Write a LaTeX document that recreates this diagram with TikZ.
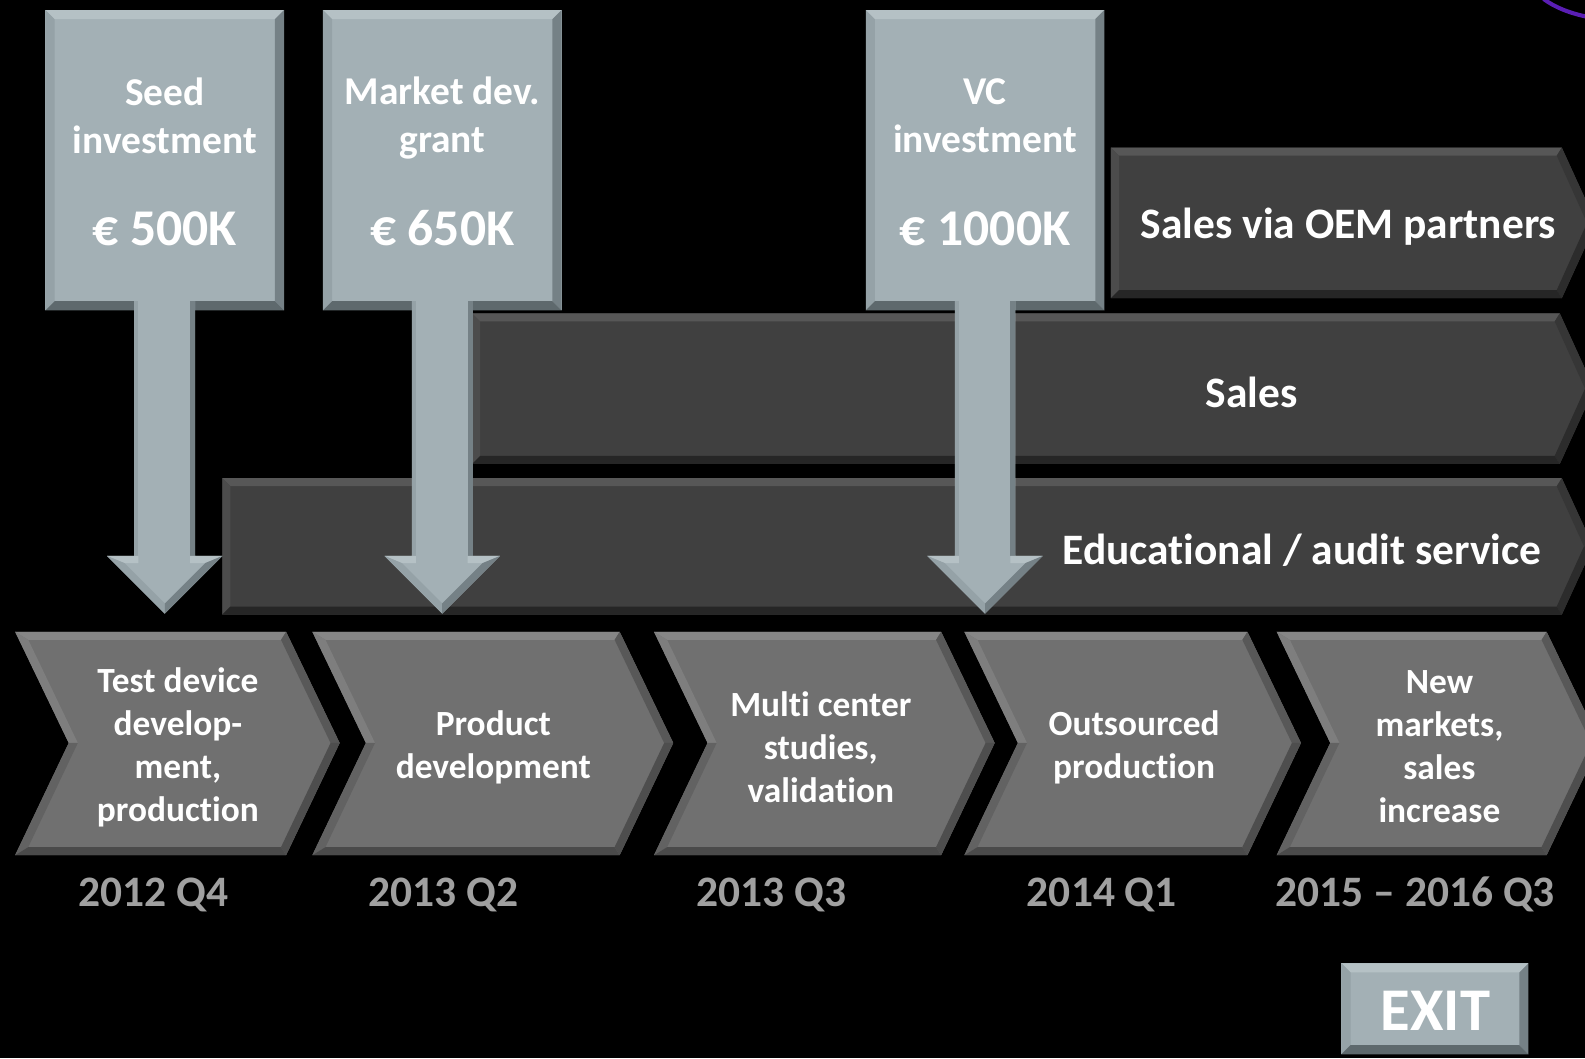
\documentclass[tikz,border=0pt]{standalone}
\usepackage{fontspec}
\setmainfont{Carlito}[Ligatures={NoCommon}]
\usetikzlibrary{calc}
\definecolor{bx}{HTML}{A3B0B5}
\definecolor{bxtop}{HTML}{B5C1C5}
\definecolor{bxleft}{HTML}{95A2A7}
\definecolor{bxright}{HTML}{758186}
\definecolor{bxbot}{HTML}{5E696D}
\definecolor{bd}{HTML}{404040}
\definecolor{bdtop}{HTML}{575757}
\definecolor{bdleft}{HTML}{4C4C4C}
\definecolor{bdright}{HTML}{363636}
\definecolor{bdbotr}{HTML}{2C2C2C}
\definecolor{bdbot}{HTML}{262626}
\definecolor{cv}{HTML}{707070}
\definecolor{cvtop}{HTML}{868686}
\definecolor{cvul}{HTML}{7E7E7E}
\definecolor{cvll}{HTML}{626262}
\definecolor{cvur}{HTML}{585858}
\definecolor{cvlr}{HTML}{4E4E4E}
\definecolor{cvbot}{HTML}{4A4A4A}
\definecolor{datec}{HTML}{A0A0A0}
\definecolor{purp}{HTML}{5A1EB4}
\tikzset{
  fundbox/.style={rectangle, fill=bx, minimum width=236pt, minimum height=297pt, inner sep=0pt, outer sep=0pt},
  exitbox/.style={rectangle, fill=bx, minimum width=185pt, minimum height=90pt, inner sep=0pt, outer sep=0pt},
  boxtxt/.style={text=white, font=\bfseries\fontsize{39}{47}\selectfont, align=center, inner sep=0pt},
  amttxt/.style={text=white, font=\bfseries\fontsize{51}{60}\selectfont, inner sep=0pt},
  chevtxt/.style={text=white, font=\bfseries\fontsize{35}{42.5}\selectfont, align=center, inner sep=0pt},
  bandtxt/.style={text=white, font=\bfseries\fontsize{43}{50}\selectfont, inner sep=0pt},
  datetxt/.style={text=datec, font=\bfseries\fontsize{43}{50}\selectfont, inner sep=0pt},
  exittxt/.style={text=white, font=\bfseries\fontsize{60}{70}\selectfont, inner sep=0pt},
}
\def\bw{9}
% bevel around a rectangular node
\newcommand\bevnode[1]{%
  \fill[bxtop] (#1.north west) -- (#1.north east) -- ($(#1.north east)+(-\bw,\bw)$) -- ($(#1.north west)+(\bw,\bw)$) -- cycle;
  \fill[bxleft] (#1.north west) -- ($(#1.north west)+(\bw,\bw)$) -- ($(#1.south west)+(\bw,-\bw)$) -- (#1.south west) -- cycle;
  \fill[bxright] (#1.north east) -- ($(#1.north east)+(-\bw,\bw)$) -- ($(#1.south east)+(-\bw,-\bw)$) -- (#1.south east) -- cycle;
  \fill[bxbot] (#1.south west) -- ($(#1.south west)+(\bw,-\bw)$) -- ($(#1.south east)+(-\bw,-\bw)$) -- (#1.south east) -- cycle;
}
% band: xl, top, bottom, x of flat end, point depth
\newcommand\bandshape[5]{%
  \fill[bd] (#1,#2) -- (#4,#2) -- ({#4+#5},{(#2+#3)/2}) -- (#4,#3) -- (#1,#3) -- cycle;
  \fill[bdtop] (#1,#2) -- (#4,#2) -- ({#4-5},{#2+8}) -- ({#1+8},{#2+8}) -- cycle;
  \fill[bdleft] (#1,#2) -- ({#1+8},{#2+8}) -- ({#1+8},{#3-8}) -- (#1,#3) -- cycle;
  \fill[bdright] (#4,#2) -- ({#4+#5},{(#2+#3)/2}) -- ({#4+#5-9},{(#2+#3)/2}) -- ({#4-5},{#2+8}) -- cycle;
  \fill[bdbotr] ({#4+#5},{(#2+#3)/2}) -- (#4,#3) -- ({#4-5},{#3-8}) -- ({#4+#5-9},{(#2+#3)/2}) -- cycle;
  \fill[bdbot] (#1,#3) -- ({#1+8},{#3-8}) -- ({#4-5},{#3-8}) -- (#4,#3) -- cycle;
}
% chevron: xl, xr
\newcommand\chev[2]{%
  \fill[cv] (#1,625) -- (#2,625) -- ({#2+53},735) -- (#2,846) -- (#1,846) -- ({#1+53},735) -- cycle;
  \fill[cvtop] (#1,625) -- (#2,625) -- ({#2-5},633) -- ({#1+13},633) -- cycle;
  \fill[cvul] (#1,625) -- ({#1+13},633) -- ({#1+62},735) -- ({#1+53},735) -- cycle;
  \fill[cvll] ({#1+53},735) -- ({#1+62},735) -- ({#1+13},838) -- (#1,846) -- cycle;
  \fill[cvur] (#2,625) -- ({#2+53},735) -- ({#2+44},735) -- ({#2-5},633) -- cycle;
  \fill[cvlr] ({#2+53},735) -- (#2,846) -- ({#2-5},838) -- ({#2+44},735) -- cycle;
  \fill[cvbot] (#1,846) -- ({#1+13},838) -- ({#2-5},838) -- (#2,846) -- cycle;
}
% block arrow from a box node down to a tip coordinate
\newcommand\fundarrow[2]{%
  \fill[bx] ($(#1.south)+(-30,-9)$) -- ($(#1.south)+(30,-9)$) -- ($(#2)+(30,-57)$) -- ($(#2)+(57,-57)$) -- (#2) -- ($(#2)+(-57,-57)$) -- ($(#2)+(-30,-57)$) -- cycle;
  \fill[bxleft] ($(#1.south)+(-30,-9)$) rectangle ($(#2)+(-26,-57)$);
  \fill[bxright] ($(#1.south)+(25,-9)$) rectangle ($(#2)+(30,-57)$);
  \fill[bxtop] ($(#2)+(-57,-57)$) -- ($(#2)+(-26,-57)$) -- ($(#2)+(-26,-50)$) -- ($(#2)+(-40,-50)$) -- cycle;
  \fill[bxtop] ($(#2)+(57,-57)$) -- ($(#2)+(25,-57)$) -- ($(#2)+(25,-50)$) -- ($(#2)+(40,-50)$) -- cycle;
  \fill[bxleft] ($(#2)+(-57,-57)$) -- ($(#2)+(-40,-50)$) -- ($(#2)+(0,-10)$) -- (#2) -- cycle;
  \fill[bxright] ($(#2)+(57,-57)$) -- ($(#2)+(40,-50)$) -- ($(#2)+(0,-10)$) -- (#2) -- cycle;
}
\begin{document}
\begin{tikzpicture}[x=1pt,y=-1pt]
\useasboundingbox (0,0) rectangle (1568,1047);
\fill[black] (0,0) rectangle (1568,1047);
\clip (0,0) rectangle (1568,1047);
% purple arc, top right
\draw[purp, line width=4pt] (1527,-1) .. controls (1538,7) and (1552,13) .. (1572,17);

% bands
\bandshape{1099}{146}{295}{1545}{34}
\bandshape{467}{310}{459}{1543}{34}
\bandshape{220}{473}{608}{1545}{31}
\node[bandtxt] (oem) at (1334,224) {Sales via OEM partners};
\node[bandtxt] (sales) at (1238,388) {Sales};
\node[bandtxt] (edu) at (1288,544) {Educational / audit service};

% chevrons
\chev{15}{283}
\chev{309}{613}
\chev{647}{931}
\chev{954}{1234}
\chev{1263}{1530}
\node[chevtxt] (c1) at (176,739) {Test device\\develop-\\ment,\\production};
\node[chevtxt] (c2) at (488,739) {Product\\development};
\node[chevtxt] (c3) at (812,739) {Multi center\\studies,\\validation};
\node[chevtxt] (c4) at (1122,739) {Outsourced\\production};
\node[chevtxt] (c5) at (1424,739) {New\\markets,\\sales\\increase};

% dates
\node[datetxt] (d1) at (152,885) {2012 Q4};
\node[datetxt] (d2) at (439,885) {2013 Q2};
\node[datetxt] (d3) at (763,885) {2013 Q3};
\node[datetxt] (d4) at (1090,885) {2014 Q1};
\node[datetxt] (d5) at (1400,885) {2015 – 2016 Q3};

% funding boxes
\node[fundbox] (b1) at (163,158.5) {};
\node[fundbox] (b2) at (437.5,158.5) {};
\node[fundbox] (b3) at (974.5,158.5) {};
\bevnode{b1}
\bevnode{b2}
\bevnode{b3}

% arrow tips
\coordinate (t1) at (163,607);
\coordinate (t2) at (437.5,607);
\coordinate (t3) at (974.5,607);
\fundarrow{b1}{t1}
\fundarrow{b2}{t2}
\fundarrow{b3}{t3}

\node[boxtxt] (b1t) at (163,114.5) {Seed\\investment};
\node[amttxt] (b1a) at (163,226) {€ 500K};
\node[boxtxt] (b2t) at (437.5,116.5) {Market dev.\\grant};
\node[amttxt] (b2a) at (437.5,226) {€ 650K};
\node[boxtxt] (b3t) at (974.5,114.5) {VC\\investment};
\node[amttxt] (b3a) at (974.5,226) {€ 1000K};

% exit button
\node[exitbox] (exit) at (1419.5,998) {};
\bevnode{exit}
\node[exittxt] (exitt) at (1420,1000) {EXIT};
\end{tikzpicture}
\end{document}
